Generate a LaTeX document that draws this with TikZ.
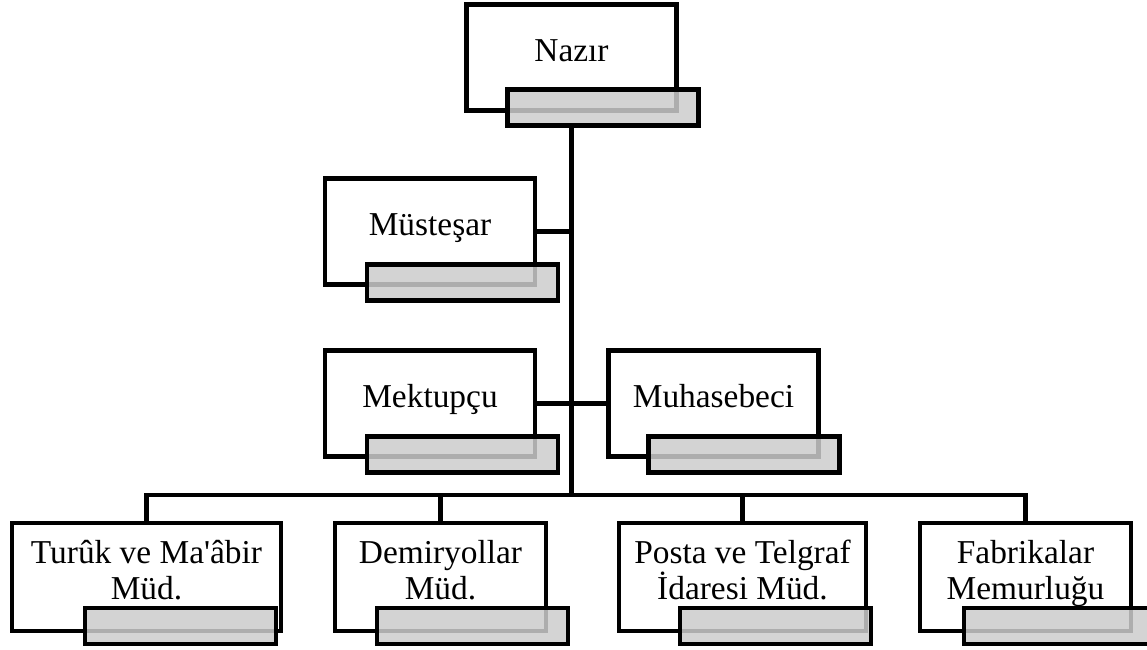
\documentclass[tikz,border=0pt]{standalone}
\usepackage{fontspec}
\setmainfont{Liberation Serif}
\usetikzlibrary{positioning}
\newcommand{\ustrut}{\rule[-8.9pt]{0pt}{22.9pt}}
\newcommand{\unitfont}{\fontsize{19}{20.1}\selectfont\lineskiplimit=-100pt\relax}
\tikzset{
	unitbox/.style={
		rectangle,
		draw=black, line width=2.5pt,
		fill=white,
		minimum width=4.2cm,
		minimum height=2.12cm,
		inner sep=0pt, outer sep=0pt,
		align=center,
		font=\unitfont},
	lowbox/.style={unitbox, minimum height=2.16cm},
	tabbox/.style={
		rectangle,
		draw=black, line width=2.5pt,
		fill=black!20, fill opacity=0.85,
		minimum width=3.82cm,
		minimum height=0.72cm,
		inner sep=0pt, outer sep=0pt,
		anchor=north west},
	link/.style={draw, line width=2.3pt},
}

\begin{document}
\begin{tikzpicture}
		\useasboundingbox (0,0) rectangle (22.94,-13);
		% upper units
		\node[unitbox] (nazir) at (11.43,-1.15) {\ustrut Nazır};
		\node[unitbox] (mustesar) at (8.6,-4.63) {\ustrut Müsteşar};
		\node[unitbox] (mektupcu) at (8.6,-8.07) {\ustrut Mektupçu};
		\node[unitbox] (muhasebeci) at (14.27,-8.07) {\ustrut Muhasebeci};
		% lower units
		\node[lowbox, minimum width=5.38cm] (turuk) at (2.93,-11.54) {\ustrut Turûk ve Ma\textquotesingle âbir\\\ustrut Müd.};
		\node[lowbox, minimum width=4.22cm] (demir) at (8.81,-11.54) {\ustrut Demiryollar\\\ustrut Müd.};
		\node[lowbox, minimum width=4.94cm] (posta) at (14.85,-11.54) {\ustrut Posta ve Telgraf\\\ustrut İdaresi Müd.};
		\node[lowbox, minimum width=4.22cm] (fabrika) at (20.51,-11.54) {\ustrut Fabrikalar\\\ustrut Memurluğu};
		
		\node[tabbox] (nazir-tab) at ([shift={(0.82,0.42)}]nazir.south west) {};
		\node[tabbox] (mustesar-tab) at ([shift={(0.84,0.40)}]mustesar.south west) {};
		\node[tabbox] (mektupcu-tab) at ([shift={(0.84,0.40)}]mektupcu.south west) {};
		\node[tabbox] (muhasebeci-tab) at ([shift={(0.80,0.40)}]muhasebeci.south west) {};
		\node[tabbox] (turuk-tab) at ([shift={(1.46,0.46)}]turuk.south west) {};
		\node[tabbox] (demir-tab) at ([shift={(0.84,0.46)}]demir.south west) {};
		\node[tabbox] (posta-tab) at ([shift={(1.22,0.46)}]posta.south west) {};
		\node[tabbox] (fabrika-tab) at ([shift={(0.88,0.46)}]fabrika.south west) {};
		
		\coordinate (bus) at ([yshift=0.56cm]demir.north -| nazir.center);
		\draw[link] (nazir.center |- nazir-tab.south) -- (bus);
		\draw[link] (mustesar.east) -- (mustesar.east -| bus);
		\draw[link] (mektupcu.east) -- (muhasebeci.west);
		\draw[link] (turuk.north) -- (turuk.north |- bus) -- (fabrika.north |- bus) -- (fabrika.north);
		\draw[link] (demir.north) -- (demir.north |- bus);
		\draw[link] (posta.north) -- (posta.north |- bus);
		
		\end{tikzpicture}
\end{document}
